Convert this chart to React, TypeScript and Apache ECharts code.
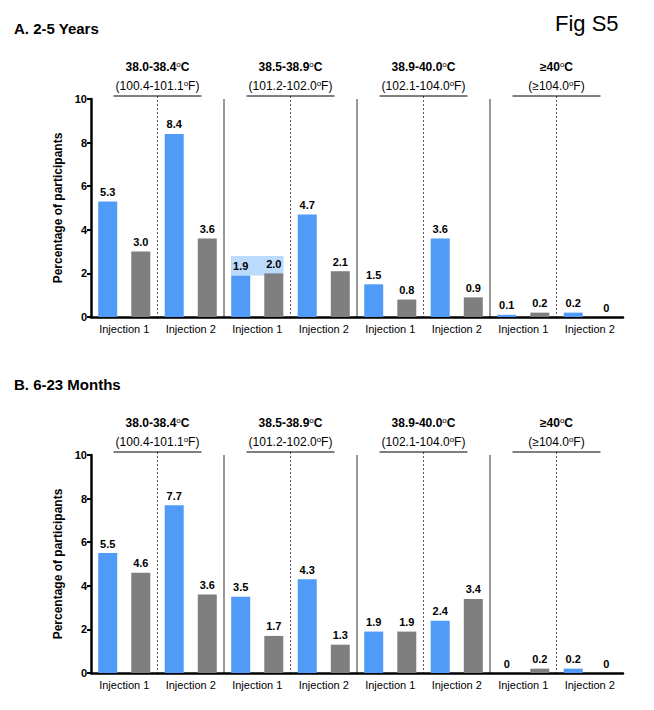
import { useEffect, useRef } from "react";
import * as echarts from "echarts";

const slots = ["Injection 1", "Injection 2", "Injection 1", "Injection 2", "Injection 1", "Injection 2", "Injection 1", "Injection 2"];
const groupTitles = ["38.0-38.4{s|o}C", "38.5-38.9{s|o}C", "38.9-40.0{s|o}C", "≥40{s|o}C"];
const groupSubs = ["(100.4-101.1{s|o}F)", "(101.2-102.0{s|o}F)", "(102.1-104.0{s|o}F)", "(≥104.0{s|o}F)"];
const blueA = [5.3, 8.4, 1.9, 4.7, 1.5, 3.6, 0.1, 0.2];
const greyA = [3.0, 3.6, 2.0, 2.1, 0.8, 0.9, 0.2, 0];
const blueB = [5.5, 7.7, 3.5, 4.3, 1.9, 2.4, 0, 0.2];
const greyB = [4.6, 3.6, 1.7, 1.3, 1.9, 3.4, 0.2, 0];

const BLUE = "#4f9bf7";
const GREY = "#7f7f7f";
const FONT = "Arial, 'Liberation Sans', sans-serif";
const GRID_TOPS = [91, 447];
const GRID_H = 218;

export default function App() {
  const ref = useRef<HTMLDivElement>(null);

  useEffect(() => {
    if (!ref.current) return;
    const chart = echarts.init(ref.current, null, { renderer: "svg" });

    const label = {
      show: true,
      position: "top" as const,
      fontWeight: "bold" as const,
      fontSize: 11,
      color: "#000",
      fontFamily: FONT,
      distance: 4,
      formatter: (p: any) => (p.value === 0 ? "0" : Number(p.value).toFixed(1)),
    };
    const bar = (data: number[], color: string, idx: number) => ({
      type: "bar" as const,
      data,
      xAxisIndex: idx,
      yAxisIndex: idx,
      barWidth: 19,
      barGap: "74%",
      itemStyle: { color },
      label,
      z: 3,
    });

    const xAxis = (idx: number) => ({
      type: "category" as const,
      gridIndex: idx,
      data: slots,
      axisLine: { lineStyle: { color: "#000", width: 2.5 } },
      axisTick: { show: false },
      axisLabel: { color: "#000", fontSize: 11, fontFamily: FONT, margin: 6 },
    });
    const yAxis = (idx: number) => ({
      type: "value" as const,
      gridIndex: idx,
      min: 0,
      max: 10,
      interval: 2,
      name: "Percentage of participants",
      nameLocation: "middle" as const,
      nameGap: 24,
      nameTextStyle: { fontWeight: "bold" as const, fontSize: 12, color: "#000", fontFamily: FONT },
      splitLine: { show: false },
      axisLine: { show: true, lineStyle: { color: "#000", width: 2.5 } },
      axisTick: { show: true, length: 4, lineStyle: { color: "#000", width: 2 } },
      axisLabel: { color: "#000", fontSize: 11, fontWeight: "bold" as const, fontFamily: FONT, margin: 4 },
    });

    chart.setOption({
      animation: false,
      grid: GRID_TOPS.map((t) => ({ left: 83, width: 532, top: t, height: GRID_H })),
      xAxis: [xAxis(0), xAxis(1)],
      yAxis: [yAxis(0), yAxis(1)],
      series: [bar(blueA, BLUE, 0), bar(greyA, GREY, 0), bar(blueB, BLUE, 1), bar(greyB, GREY, 1)],
    });

    // separators, headers and the highlight, positioned from the axes
    const g: any[] = [];
    const rich = { s: { fontSize: 8, verticalAlign: "top", padding: [0, 0, 6, 0] } };
    [0, 1].forEach((idx) => {
      const px = (v: number, c: number) =>
        chart.convertToPixel({ gridIndex: idx } as any, [v, c]) as number[];
      const band = px(1, 0)[0] - px(0, 0)[0];
      const top = GRID_TOPS[idx];
      const bottom = top + GRID_H;
      for (let k = 0; k < 4; k++) {
        const left = px(2 * k, 0)[0] - band / 2;
        const mid = left + band;
        if (k > 0) {
          g.push({ type: "line", shape: { x1: left, y1: top, x2: left, y2: bottom }, style: { stroke: "#333", lineWidth: 1 } });
        }
        g.push({ type: "line", shape: { x1: mid, y1: top - 3, x2: mid, y2: bottom }, style: { stroke: "#555", lineWidth: 1, lineDash: [2, 2] } });
        g.push({ type: "line", shape: { x1: mid - 44, y1: top - 3, x2: mid + 44, y2: top - 3 }, style: { stroke: "#000", lineWidth: 1 } });
        g.push({
          type: "text", x: mid, y: top - 32, style: {
            text: groupTitles[k], rich, fontWeight: "bold", fontSize: 12, fill: "#000", fontFamily: FONT, align: "center", verticalAlign: "middle",
          },
        });
        g.push({
          type: "text", x: mid, y: top - 13, style: {
            text: groupSubs[k], rich, fontSize: 12, fill: "#000", fontFamily: FONT, align: "center", verticalAlign: "middle",
          },
        });
      }
      if (idx === 0) {
        const a = px(2, 2.8);
        const b = px(2, 1.9);
        g.push({
          type: "rect", z: 1,
          shape: { x: a[0] - band / 2 + 7, y: a[1], width: band - 14, height: b[1] - a[1] },
          style: { fill: "#bcdafc" },
        });
      }
    });
    g.push(
      { type: "text", left: 6, top: 13, style: { text: "A. 2-5 Years", fontSize: 15, fontWeight: "bold", fill: "#000", fontFamily: FONT } },
      { type: "text", left: 6, top: 369, style: { text: "B. 6-23 Months", fontSize: 15, fontWeight: "bold", fill: "#000", fontFamily: FONT } },
      { type: "text", left: 547, top: 4, style: { text: "Fig S5", fontSize: 22, fill: "#000", fontFamily: FONT } }
    );
    chart.setOption({ graphic: g });

    return () => chart.dispose();
  }, []);

  return <div ref={ref} style={{ width: 638, height: 694, background: "#fff" }} />;
}
